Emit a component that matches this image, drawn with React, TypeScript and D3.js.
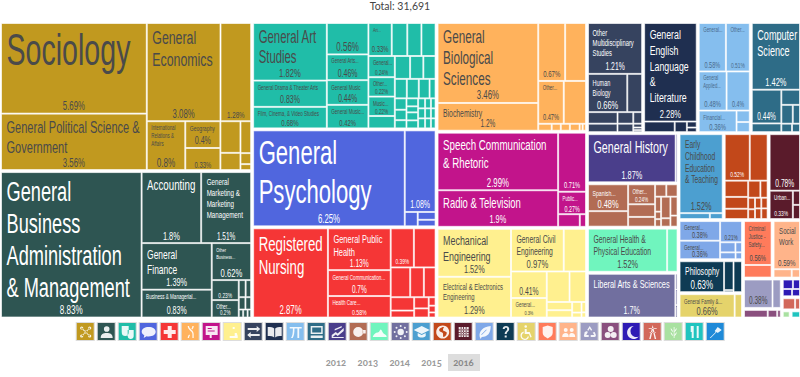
import React, { useMemo } from "react";
import * as d3 from "d3";

type N = { dir?: "h" | "v"; cat?: string; name?: string; value?: number; shown?: string; children?: N[] };
const L = (name: string, value: number, shown?: string): N => ({ name, value, shown });
const E = (value: number): N => ({ name: "", value });
const P = (value: number): N => ({ name: "%", value });
const h = (...children: N[]): N => ({ dir: "h", children });
const v = (...children: N[]): N => ({ dir: "v", children });
const cat = (name: string, t: N): N => ({ ...t, cat: name });
const row = (...vals: number[]) => h(...vals.map(E));
const col = (...vals: number[]) => v(...vals.map(E));

const sociology = h(
  v(L("Sociology", 5.62, "5.69%"), L("General Political Science &|Government", 3.5, "3.56%")),
  v(
    h(L("General|Economics", 3.08), P(1.28)),
    h(L("International|Relations &|Affairs", 0.8), v(L("Geography", 0.4), P(0.33)), h(col(0.27, 0.147), col(0.145, 0.05, 0.027)))
  )
);
const business = h(
  L("General|Business|Administration|& Management", 8.7, "8.83%"),
  v(
    h(L("Accounting", 1.8), L("General|Marketing &|Marketing|Management", 1.51)),
    h(
      v(L("General|Finance", 1.39), L("Business & Managerial...", 0.83)),
      v(
        L("Other|Business...", 0.62),
        h(v(P(0.23), L("Other...", 0.2)), v(row(0.05, 0.04), row(0.035, 0.03), row(0.015, 0.015, 0.012)))
      )
    )
  )
);
const arts = h(
  v(L("General Art|Studies", 1.82), L("General Drama & Theater Arts", 0.83), L("Film, Cinema, & Video Studies", 0.68)),
  v(P(0.56), L("General Arts...", 0.46), L("General Music", 0.44), L("General Music...", 0.42)),
  v(
    h(L("Art...", 0.33), E(0.22), E(0.2), E(0.2)),
    h(
      v(L("General...", 0.24), L("Other...", 0.22), L("Music...", 0.22), E(0.14)),
      v(
        row(0.15, 0.13, 0.12),
        row(0.1, 0.1, 0.09, 0.05),
        h(col(0.057, 0.052, 0.041), col(0.04, 0.03, 0.04, 0.04), v(row(0.03, 0.025, 0.02), row(0.03, 0.025, 0.02), row(0.03, 0.025, 0.02)))
      )
    )
  )
);
const psychology = h(L("General|Psychology", 6.25), v(P(1.08), h(E(0.08), col(0.06, 0.05))));
const health = h(
  L("Registered|Nursing", 2.87),
  v(L("General Public|Health", 1.13), L("General Communication...", 0.7), L("Health Care...", 0.58)),
  v(
    h(P(0.39), E(0.365)),
    row(0.25, 0.175, 0.15),
    h(col(0.135, 0.07), col(0.07, 0.057), col(0.025, 0.02, 0.015))
  )
);
const biology = h(
  v(L("General|Biological|Sciences", 3.46), L("Biochemistry", 1.2)),
  v(h(P(0.67), E(0.52)), h(L("Other...", 0.47), E(0.41)), row(0.04, 0.027, 0.027, 0.029, 0.009, 0.01))
);
const communication = h(
  v(L("Speech Communication|& Rhetoric", 2.99), L("Radio & Television", 1.9)),
  v(P(0.71), L("Public...", 0.27), row(0.118, 0.034))
);
const engineering = h(
  v(L("Mechanical|Engineering", 1.52), L("Electrical & Electronics|Engineering", 1.29)),
  v(
    h(L("General Civil|Engineering", 0.97), E(0.41)),
    h(
      v(P(0.41), L("General...", 0.3)),
      v(row(0.3, 0.217), h(col(0.09, 0.08), col(0.043, 0.02), col(0.02, 0.01)))
    )
  )
);
const multidisciplinary = v(
  L("Other|Multidisciplinary|Studies", 1.21),
  h(L("Human|Biology", 0.66), E(0.25)),
  row(0.15, 0.08, 0.045),
  h(E(0.11), E(0.059), col(0.015, 0.01, 0.008))
);
const english = v(L("General|English|Language|&|Literature", 2.28), h(E(0.143), E(0.057), col(0.026, 0.02)));
const mathematics = v(
  h(L("General...", 0.58), L("Other...", 0.51)),
  h(L("General|Applied...", 0.48), P(0.4)),
  h(L("Financial...", 0.36), col(0.067, 0.059))
);
const computer = v(
  L("Computer|Science", 1.42),
  h(
    v(P(0.44), E(0.114)),
    v(E(0.125), row(0.095, 0.06), row(0.04, 0.03))
  )
);
const history = h(L("General History", 1.87), E(0.04));
const languages = h(
  v(L("Spanish...", 0.48), E(0.277)),
  v(L("Other...", 0.24), E(0.152), E(0.117)),
  v(row(0.062, 0.062), h(col(0.04, 0.02, 0.02), col(0.09, 0.035), col(0.06, 0.035)))
);
const physical = h(L("General Health &|Physical Education", 1.52), E(0.2));
const liberal = h(L("Liberal Arts & Sciences", 1.7), col(0.015, 0.015, 0.012));
const education = v(L("Early|Childhood|Education|& Teaching", 1.52), row(0.08, 0.034));
const geography = v(
  h(P(0.52), E(0.37)),
  h(col(0.17, 0.124, 0.108), v(row(0.093, 0.055), h(col(0.035, 0.03), col(0.03, 0.03), col(0.03, 0.03))))
);
const architecture = v(P(0.78), h(L("Urban...", 0.3, "0.33%"), col(0.046, 0.046)));
const biomedical = h(
  v(L("General...", 0.36, "0.38%"), L("General...", 0.34, "0.36%")),
  v(P(0.21), h(E(0.07), E(0.03)), h(E(0.048), E(0.02)))
);
const philosophy = h(L("Philosophy", 0.63), v(E(0.125), E(0.009)), E(0.12));
const family = h(L("General Family &...", 0.6, "0.66%"), E(0.08));
const criminal = v(L("Criminal|Justice -|Safety...", 0.56), E(0.16));
const social = v(L("Social|Work", 0.59), row(0.07, 0.032));
const lavender = h(P(0.38), E(0.11));
const mauve = row(0.1, 0.04, 0.015);
const science = v(row(0.05, 0.035), row(0.035, 0.03));
const terracotta = row(0.075, 0.03);
const wheat = E(0.03);
const food = E(0.035);

const tree: N = h(
  v(cat("sociology", sociology), cat("business", business)),
  v(cat("arts", arts), cat("psychology", psychology), cat("health", health)),
  v(cat("biology", biology), cat("communication", communication), cat("engineering", engineering)),
  v(
    h(cat("multi", multidisciplinary), cat("english", english), cat("math", mathematics), cat("computer", computer)),
    h(
      v(cat("history", history), cat("languages", languages), cat("physical", physical), cat("liberal", liberal)),
      v(
        h(cat("education", education), cat("geography", geography), cat("architecture", architecture)),
        h(
          v(cat("biomedical", biomedical), cat("philosophy", philosophy), cat("family", family)),
          v(
            h(cat("criminal", criminal), cat("social", social)),
            h(
              v(cat("lavender", lavender), cat("mauve", mauve)),
              v(cat("science", science), cat("terracotta", terracotta), h(cat("wheat", wheat), cat("food", food)))
            )
          )
        )
      )
    )
  )
);

const categoryOrder = ["sociology","business","arts","psychology","health","biology","communication","engineering","multi","english","math","computer","history","languages","physical","liberal","education","geography","architecture","biomedical","philosophy","family","criminal","social","lavender","mauve","science","terracotta","wheat","food","law"];
const categoryColors: Record<string, string> = {
  sociology: "#C1991F", business: "#2E5552", arts: "#20BDA8", psychology: "#5066DE", health: "#F53636", biology: "#FFB25C",
  communication: "#C2148B", engineering: "#FFF08F", multi: "#36435F", english: "#1F2F50", math: "#85BEEE", computer: "#2E6C87",
  history: "#4A3E8B", languages: "#B26C54", physical: "#70F5BE", liberal: "#716F9F", education: "#4C9FD0", geography: "#C2481A",
  architecture: "#5A1B2B", biomedical: "#7FA8E8", philosophy: "#0E3B54", family: "#E5D36B", criminal: "#FF7B5B", social: "#FFB48A",
  lavender: "#9C9CC2", mauve: "#8A4F7E", science: "#2E1BB5", terracotta: "#D2685A", wheat: "#A9E1A1", food: "#20C4BF", law: "#1F8AD8",
};
const darkText = new Set(["sociology","arts","biology","engineering","physical","family","criminal","social","lavender","biomedical","education"]);
const mutedLight = new Set(["math"]);
const textDark = "#4a4a4a";

const nameSizes: Record<string, number> = {
  "Sociology": 44, "General Political Science &|Government": 17, "General|Economics": 19, "International|Relations &|Affairs": 6.8, "Geography": 7.8,
  "General|Business|Administration|& Management": 28, "Accounting": 15, "General|Marketing &|Marketing|Management": 9.6, "General|Finance": 13,
  "Other|Business...": 6, "Business & Managerial...": 7, "General Art|Studies": 17.5, "General Drama & Theater Arts": 6.9, "Film, Cinema, & Video Studies": 7,
  "General Arts...": 6.6, "General Music": 7, "General Music...": 7, "Art...": 6, "General...": 6.8, "Other...": 6.8, "Music...": 7,
  "General|Psychology": 34, "Registered|Nursing": 20.4, "General Public|Health": 11.5, "General Communication...": 7, "Health Care...": 7,
  "General|Biological|Sciences": 18, "Biochemistry": 10.5, "Speech Communication|& Rhetoric": 15, "Radio & Television": 14.6, "Public...": 6.5,
  "Mechanical|Engineering": 13.7, "Electrical & Electronics|Engineering": 9.1, "General Civil|Engineering": 10.5,
  "Other|Multidisciplinary|Studies": 9, "Human|Biology": 8.5, "General|English|Language|&|Literature": 13.5, "General|Applied...": 6.5, "Financial...": 7,
  "Computer|Science": 14, "General History": 16.5, "Spanish...": 8, "General Health &|Physical Education": 10.5, "Liberal Arts & Sciences": 11.4,
  "Early|Childhood|Education|& Teaching": 10.3, "Philosophy": 10.8, "General Family &...": 6.9, "Criminal|Justice -|Safety...": 7, "Social|Work": 9.4, "Urban...": 7,
};
const pctSizes: Record<string, number> = {
  "5.69": 12, "3.08": 12, "1.28": 9.6, "3.56": 12, "0.8": 12.5, "0.33": 9, "Geography:0.4": 11, "%:0.4": 8.2, "8.83": 12.5, "1.8": 11.5, "1.51": 10, "1.39": 11.3, "0.83": 10.8,
  "0.62": 11.8, "0.23": 7.5, "0.2": 7, "1.82": 11.8, "0.68": 9.4, "0.56": 12.3, "Criminal|Justice -|Safety...:0.56": 9, "0.46": 10.8, "0.44": 10.3, "%:0.44": 10, "0.42": 9, "0.24": 7.2, "0.22": 7.2,
  "6.25": 12, "1.08": 10.8, "2.87": 12, "1.13": 10.3, "0.7": 10, "0.58": 8, "General...:0.58": 8.5, "0.39": 7.5, "3.46": 12, "1.2": 10, "0.67": 9.3, "0.47": 8.7, "2.99": 12, "1.9": 11.3, "0.71": 8.7,
  "0.27": 8.2, "1.52": 11.3, "1.29": 11.2, "0.97": 11.8, "0.41": 10.5, "0.3": 6, "1.21": 10.5, "0.66": 11.5, "2.28": 11.5, "0.51": 7.5, "0.48": 9, "Spanish...:0.48": 11.5,
  "0.36": 8.5, "Financial...:0.36": 9, "1.42": 11.5, "1.87": 11.3, "1.7": 11, "0.52": 7.6, "0.78": 10.3, "Urban...:0.33": 7.6, "0.38": 8.5, "%:0.38": 10, "0.21": 7.2, "0.63": 12.3, "0.59": 9.6,
};

const circle = (x: number, y: number, r: number) => `M${x - r},${y}a${r},${r} 0 1,0 ${2 * r},0a${r},${r} 0 1,0 ${-2 * r},0Z`;
const iconGlyphs: string[] = [
  circle(5, 5, 1.6) + circle(13, 5, 1.6) + circle(9, 9, 1.6) + circle(5, 13, 1.6) + circle(13, 13, 1.6) + "M5,4.6L13.4,13l-.6.6L4.4,5.2ZM13,4.4l.6.6L5.2,13.6l-.6-.6Z",
  circle(9, 6, 2.8) + "M3,15c0-4 2.5-5 6-5s6,1 6,5Z",
  "M3,3h7v6c0,3-1.5,4-3.5,4S3,12,3,9ZM9,7h6v6c0,2-1.3,3-3,3s-3-1-3-3Z",
  "M9,4c4,0 7,2 7,4.8s-3,4.7-7,4.7c-.8,0-1.5,0-2.2-.2L4,15l.6-2.7C3,11.5,2,10.2,2,8.8,2,6,5,4,9,4Z",
  "M7,3h4v4h4v4h-4v4H7v-4H3V7h4Z",
  "M6,3h1.3c0,3,4.700,4,4.700,8v4h-1.300v-4c0-3-4.700-4-4.700-8ZM12,3h-1.300c0,1-.5,2-1,2.800l.8.8C11.500,5.500,12,4.500,12,3ZM6,15h1.300c0-1,.5-2,1-2.800l-.8-.8C6.500,12.500,6,13.500,6,15Z",
  "M3,3h12v9H9v3H7v-3H3ZM5,5v1h4V5Zm0,2.500v1h7v-1Z",
  "M9,4h2v6h2l1,3v2H6v-2h5V6H9Z",
  "M3,5h9V3l3.500,3L12,9V7H3ZM15,11H6V9l-3.500,3L6,15v-2h9Z",
  "M2,4c3,0 5.500,.3 6.500,1.500V14.500C7.500,13.300 5,13 2,13ZM16,4c-3,0-5.500,.3-6.500,1.500V14.500c1-1.200 3.500-1.500 6.500-1.500Z",
  "M3,4h12v1.500h-2.500V15h-1.800V5.500H7.800C7.800,10,7.300,13,6,15H4.300C5.800,13,6.200,10,6.200,5.500H3Z",
  "M3,3h12v8H3ZM4.500,4.500v5h9v-5ZM3,12.500h12V15H3Z",
  "M3,15V12l4-3 2,1.500L15,5v3l-6,5-2-1.500L4,14H15v1ZM6,6l7-3v1.500L6,7.500Z",
  circle(8.5, 9, 5) + "M13,7h3v3.500h-3Z",
  "M2,14c1-3 3-4.500 5-4.500 2,0 2-3 3-3s2,3.500 3.500,4.500c1,.6 2.500,1 2.500,3Z",
  circle(9, 9, 3.2) + circle(9, 3, 1) + circle(9, 15, 1) + circle(3, 9, 1) + circle(15, 9, 1) + circle(4.800, 4.800, 1) + circle(13.200, 4.800, 1) + circle(4.800, 13.200, 1) + circle(13.200, 13.200, 1),
  "M9,3L17,7l-8,4L1,7ZM5,10l4,2 4-2v3c-1,1-2.500,1.500-4,1.500S6,14 5,13Z",
  "M9,2.500a6.500,6.500 0 1,0 .01,0ZM9,4c-1,1-3,1-3.500,2.500S7,9 8.500,9.500 9,12 9.500,14c1.500,0 3-1.500 3.500-3.500s-2-2-3-2.500S9,5.500 10.500,4.300Z",
  "M4,4h10v10H4ZM6,4v10h.8V4Zm2.500,0v10h.8V4Zm2.500,0v10h.8V4ZM4,6.500h10v.8H4Zm0,2.500h10v.8H4Zm0,2.500h10v.8H4Z",
  "M4,14C3,8 7,4 15,3c0,7-3,11-9,11l-1,2Zm2-2l5-5-.5-.5-5,5Z",
  "M6,6c0-2 1.500-3 3.300-3S12.500,4 12.500,6c0,2.500-2.500,2.500-2.500,5H8c0-3 2.500-3 2.500-5,0-.8-.5-1.200-1.200-1.200S8,5.200 8,6ZM8,12.500h2v2H8Z",
  circle(8, 3.500, 1.300) + "M7,6h2v3h3l2,5-1.300.4L11.300,11H7ZM6,8.500v1.500a3,3 0 1,0 4,3.500h1.300A4.300,4.300 0 1,1 6,8.500Z",
  "M4,4l5-1.500L14,4V10c0,2.500-2.500,4-5,5.500C6.500,14,4,12.500,4,10Z",
  circle(6, 7, 2) + circle(12, 7, 2) + "M2.500,14c0-3 1.500-4 3.500-4s3,1 3,4Zm7,0c0-3 .5-4 2.500-4s3.500,1 3.500,4Z",
  "M9,3l2.500,4-1.200.7L9,5.500 7.700,7.700 6.500,7ZM4,9l2.500-1 .5,1.500-1.500,2.500H8v2H4.500C3,14 3,12.500 3.500,11.500ZM14,9l1,2.500c.5,1 0,2.500-1.500,2.500H10v-2h3.500L12,9.500Z",
  circle(6, 12, 3) + circle(12, 12, 3) + circle(9, 6, 3),
  "M11,3a6.500,6.500 0 1,0 5,10.500A5.500,5.500 0 0,1 11,3Z",
  "M9,2L12.500,16H11L9,7 7,16H5.500ZM5,5h8v.8H5ZM6,9h6v.8H6Z",
  "M9,15V4h.8V15ZM6,5c1,1 2,2 2.500,4C7,8.500 6,7 6,5Zm6,0c-1,1-2,2-2.500,4 1.500-.5 2.500-2 2.500-4ZM6,9c1,1 2,2 2.500,4C7,12.500 6,11 6,9Zm6,0c-1,1-2,2-2.500,4 1.500-.5 2.500-2 2.500-4Z",
  "M5,3h3v12H6V9H5ZM11,3h2v12h-2Z",
  "M3,15l6-6-1-1 3-4 4,3-4,3-1-1-6,6Z",
];
const years = ["2012", "2013", "2014", "2015", "2016"];
const activeYear = "2016";

const X0 = 1, Y0 = 23, W = 799, H = 294.5;
const sx = 0.65;
const FONT = "'Liberation Sans', Arial, sans-serif";

export default function App() {
  const leaves = useMemo(() => {
    const root = d3.hierarchy<N>(tree).sum((d) => (d.children ? 0 : d.value ?? 0));
    const inCat = (n: d3.HierarchyNode<N>) => n.ancestors().some((a) => a.data.cat);
    const layout = d3
      .treemap<N>()
      .size([W, H])
      .paddingInner((n) => (inCat(n) ? 0 : 2))
      .tile((node, x0, y0, x1, y1) => (node.data.dir === "v" ? d3.treemapSlice : d3.treemapDice)(node as any, x0, y0, x1, y1));
    return layout(root).leaves().map((n) => ({
      n,
      cat: n.ancestors().find((a) => a.data.cat)!.data.cat as string,
    }));
  }, []);

  const iconX = d3.scalePoint<string>().domain(categoryOrder).range([76.7, 706.7]);
  const yearX = d3.scalePoint<string>().domain(years).range([336, 463.5]);

  return (
    <svg width={800} height={377} style={{ position: "absolute", left: 0, top: 0, display: "block" }}>
      <text x={400} y={9.5} textAnchor="middle" fontFamily="Lato" fontSize={10.5} fill="#444">Total: 31,691</text>
      <g transform={`translate(${X0},${Y0})`}>
        {leaves.map(({ n, cat: c }, i) => {
          const w = n.x1 - n.x0, ht = n.y1 - n.y0;
          const col = categoryColors[c];
          const tc = darkText.has(c) ? textDark : mutedLight.has(c) ? "#4a6a8a" : "#fff";
          const name = n.data.name ?? "";
          const lines = name && name !== "%" ? name.split("|") : [];
          const fs = nameSizes[name] ?? 6.5;
          const label = n.data.shown ?? `${n.data.value}%`;
          const val = label.replace("%", "");
          const ps = pctSizes[`${name}:${val}`] ?? pctSizes[val] ?? 8;
          const topPad = fs < 8 ? 3.5 : 5;
          const botPad = ht < 25 ? 2.5 : 3.5;
          return (
            <g key={i}>
              <rect x={n.x0 + 0.5} y={n.y0 + 0.5} width={Math.max(w - 1, 0)} height={Math.max(ht - 1, 0)} fill={col} stroke="#fff" strokeOpacity={0.65} strokeWidth={1} />
              {lines.map((t, k) => (
                <text key={k} transform={`translate(${n.x0 + (fs > 9 ? 5.5 : 4.5)},${n.y0 + topPad + 0.85 * fs + k * fs * 1.15}) scale(${sx},1)`}
                  fontFamily={FONT} fontSize={fs} fill={tc}>{t}</text>
              ))}
              {name !== "" && (
                <text transform={`translate(${(n.x0 + n.x1) / 2},${n.y1 - botPad}) scale(${sx},1)`} textAnchor="middle"
                  fontFamily={FONT} fontSize={ps} fill={tc}>{label}</text>
              )}
            </g>
          );
        })}
      </g>
      {categoryOrder.map((c, i) => (
        <g key={c} transform={`translate(${iconX(c)},323)`}>
          <rect x={-0.5} y={-0.5} width={18} height={18} fill={categoryColors[c]} stroke="#ddd" strokeWidth={1} />
          <path d={iconGlyphs[i]} fill="#fff" fillOpacity={0.9} fillRule="evenodd" />
        </g>
      ))}
      <rect x={448} y={354} width={32} height={17} fill="#ddd" />
      {years.map((y) => (
        <text key={y} x={yearX(y)} y={366} textAnchor="middle" fontFamily="Lato" fontWeight={700} fontSize={9.5} fill={y === activeYear ? "#888" : "#999"}
          style={{ fontFeatureSettings: '"onum"' }}>{y}</text>
      ))}
    </svg>
  );
}
